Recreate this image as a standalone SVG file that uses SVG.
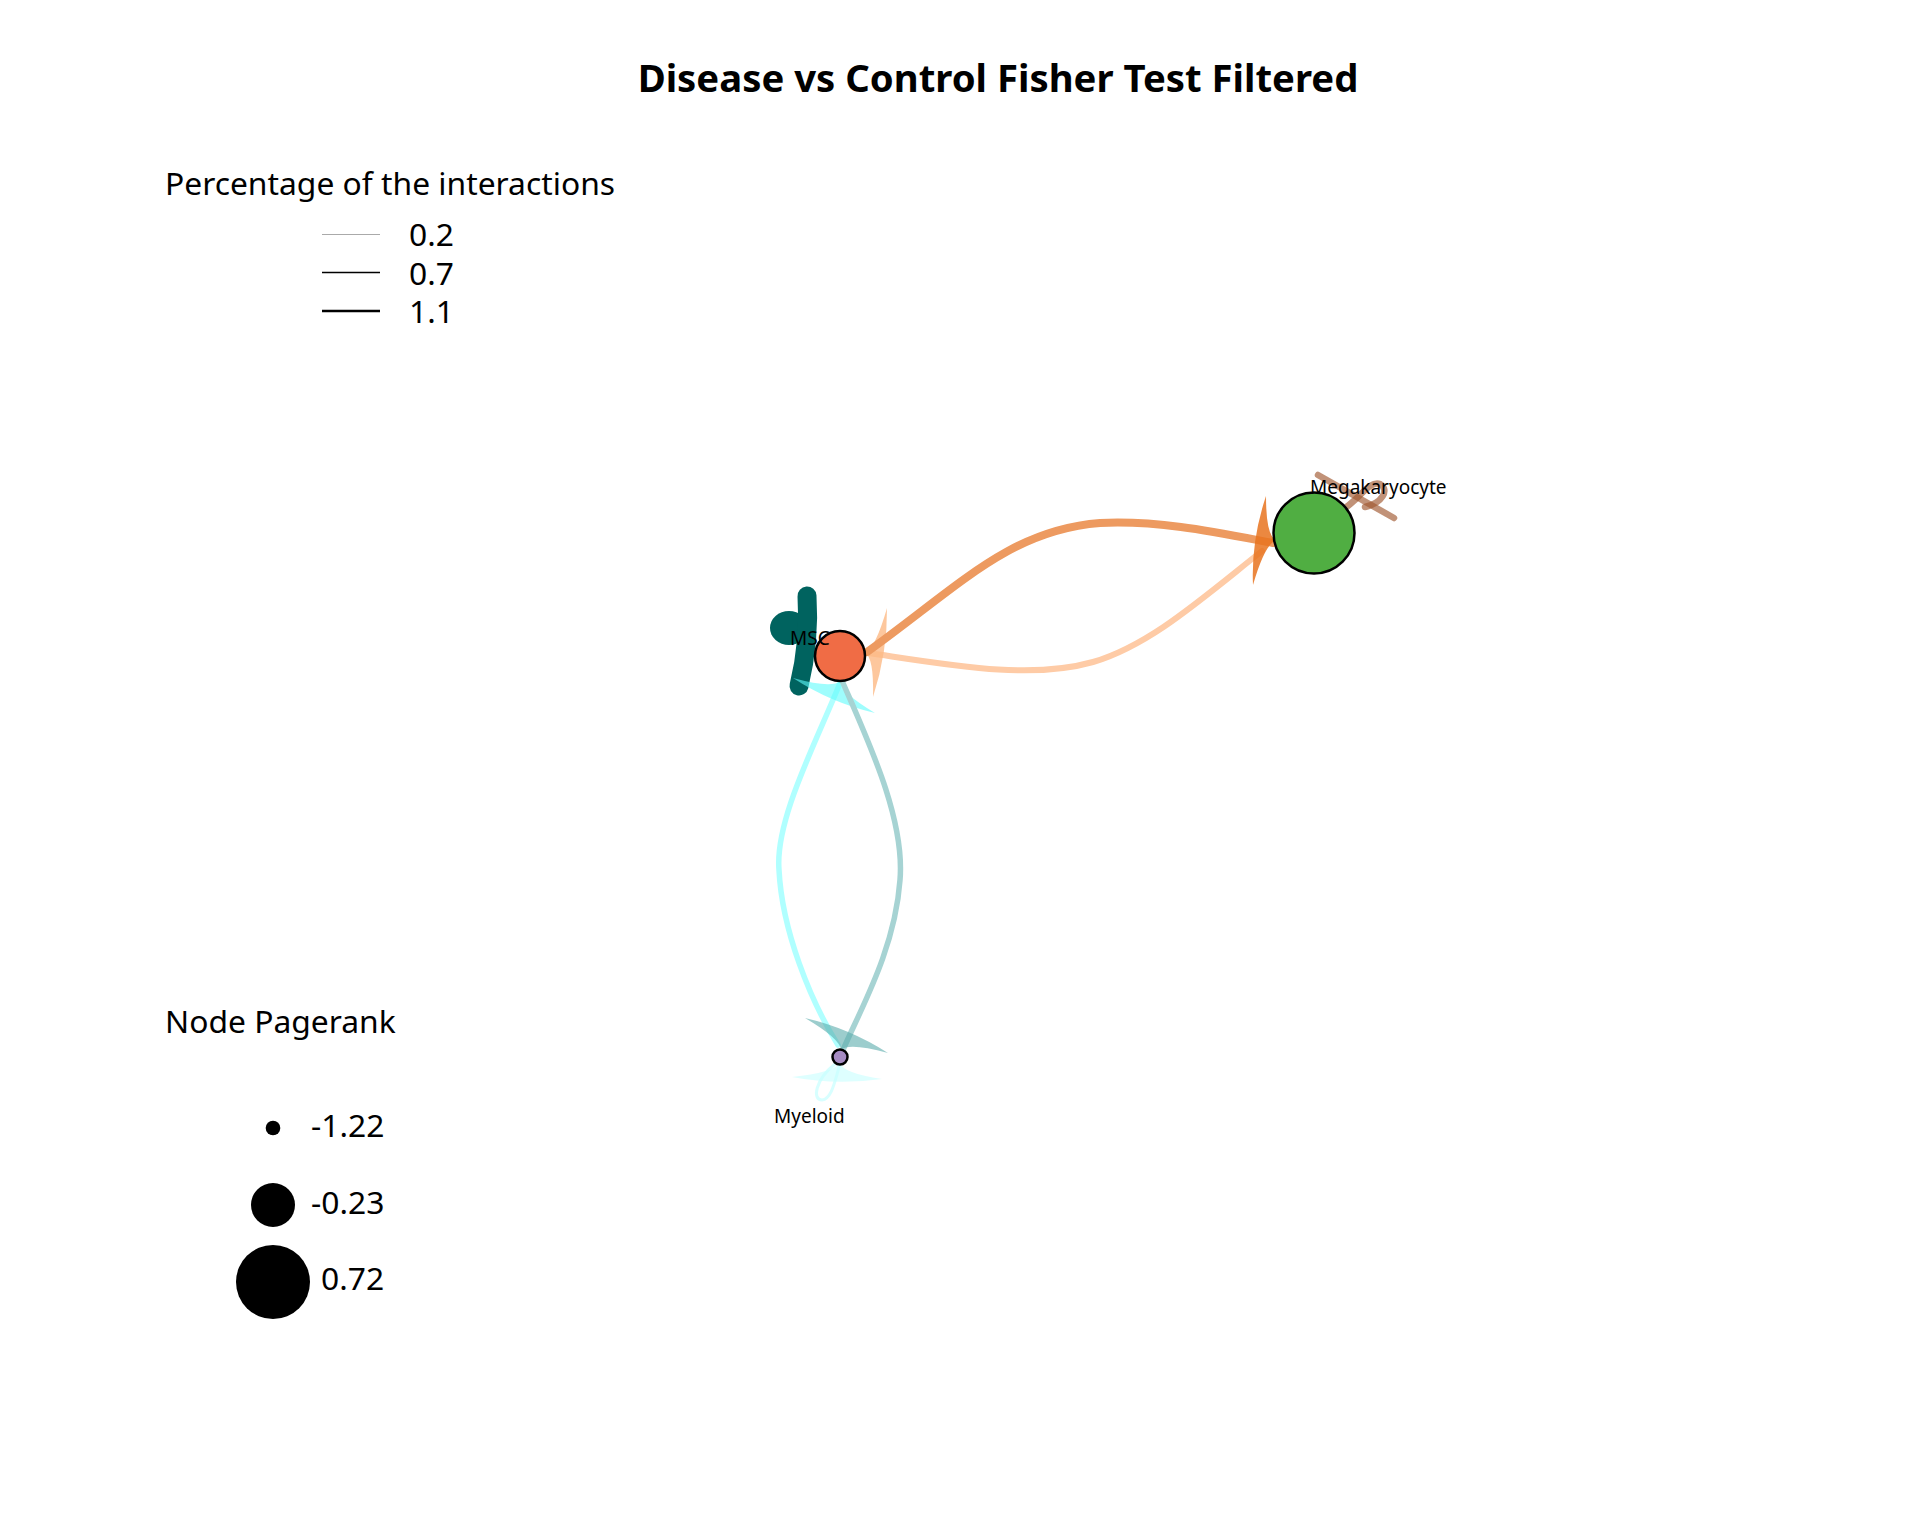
<svg xmlns="http://www.w3.org/2000/svg" width="1920" height="1536" viewBox="0 0 1920 1536">
<style>
text{font-family:"Noto Sans","Open Sans","DejaVu Sans",sans-serif;fill:#000}
.title{font-size:38.3px;font-weight:bold}
.leg{font-size:31.8px}
.lab{font-size:19px}
.node{stroke:#000;stroke-width:2.5}
.edge{fill:none;stroke-linecap:round}
</style>
<rect width="1920" height="1536" fill="#fff"/>
<text class="title" x="998" y="92" text-anchor="middle">Disease vs Control Fisher Test Filtered</text>

<g id="legend-width">
<text class="leg" x="165" y="195">Percentage of the interactions</text>
<line x1="322" y1="234.5" x2="380" y2="234.5" stroke="#aaaaaa" stroke-width="1.2"/>
<line x1="322" y1="272.5" x2="380" y2="272.5" stroke="#000" stroke-width="1.5"/>
<line x1="322" y1="311" x2="380" y2="311" stroke="#000" stroke-width="2.6"/>
<text class="leg" x="409" y="246">0.2</text>
<text class="leg" x="409" y="285">0.7</text>
<text class="leg" x="409" y="323">1.1</text>
</g>

<g id="legend-size">
<text class="leg" x="165" y="1033">Node Pagerank</text>
<circle cx="273" cy="1128" r="7.3" fill="#000"/>
<circle cx="273" cy="1205" r="22" fill="#000"/>
<circle cx="273" cy="1282" r="37" fill="#000"/>
<text class="leg" x="311" y="1137">-1.22</text>
<text class="leg" x="311" y="1214">-0.23</text>
<text class="leg" x="321" y="1290">0.72</text>
</g>

<g id="connectors">
<!-- MSC self loop -->
<g id="loop-msc" fill="#00635f" stroke="#00635f">
<ellipse cx="789" cy="628" rx="19" ry="17" stroke="none"/>
<path d="M 807 596 Q 810 640 799 686" fill="none" stroke-width="19" stroke-linecap="round"/>
</g>
<!-- Megakaryocyte self loop -->
<g id="loop-mega" fill="none" stroke="#a0582f" stroke-opacity="0.65" stroke-width="6.5" stroke-linecap="round">
<line x1="1318" y1="475" x2="1394" y2="518"/>
<path d="M 1345 508 C 1360 498, 1370 480, 1380 484 C 1390 490, 1382 503, 1365 507"/>
</g>
<!-- Myeloid self loop -->
<path id="loop-myeloid" class="edge" d="M 835 1064 C 815 1080, 812 1100, 822 1100 C 832 1099, 835 1080, 840 1064" stroke="#d8ffff" stroke-width="3"/>
<path d="M 792 1077 Q 833.5 1072.6 840 1063 Q 842.5 1072.9 882 1079 Q 835.5 1085.5 792 1077 Z" fill="#c8ffff" fill-opacity="0.6"/>

<!-- Megakaryocyte -> MSC (light orange) -->
<path class="edge" d="M 869 653 C 950 665, 1030 680, 1093 662 C 1150 645, 1200 600, 1262 551" stroke="#fecba6" stroke-width="6"/>
<path d="M 887 608 Q 875.5 648.2 865 653 Q 874 657.2 873 697 Q 887.5 652.3 887 608 Z" fill="#fdb985" fill-opacity="0.8"/>

<!-- MSC -> Megakaryocyte (orange) -->
<path class="edge" d="M 867 652 C 960 585, 1010 530, 1100 523 C 1160 520, 1220 533, 1273 543" stroke="#ed9a60" stroke-width="8"/>
<path d="M 1266 496 Q 1266 536 1276 540 Q 1264.6 544.7 1253 585 Q 1251 540.7 1266 496 Z" fill="#e8731f" fill-opacity="0.85"/>

<!-- Myeloid -> MSC (cyan) -->
<path class="edge" d="M 840 683 C 815 745, 775 820, 779 870 C 782 930, 810 1000, 838 1045" stroke="#b0ffff" stroke-width="5.5"/>
<path d="M 793 678 Q 832 688.7 840 681 Q 840.2 692.2 875 713 Q 831 702.8 793 678 Z" fill="#5ffcfc" fill-opacity="0.6"/>

<!-- MSC -> Myeloid (teal grey) -->
<path class="edge" d="M 843 683 C 870 745, 905 820, 900 880 C 895 950, 860 1010, 843 1050" stroke="#a6d3d3" stroke-width="5.5"/>
<path d="M 805 1018 Q 840.4 1038.8 841 1050 Q 848.7 1042.3 888 1053 Q 849.2 1028.2 805 1018 Z" fill="#5aabab" fill-opacity="0.6"/>
</g>

<g id="node-msc">
<circle class="node" cx="840" cy="656" r="25" fill="#f06c45"/>
<text class="lab" x="790" y="645">MSC</text>
</g>
<g id="node-megakaryocyte">
<circle class="node" cx="1314" cy="533" r="40.5" fill="#50ae42"/>
<text class="lab" x="1310" y="494">Megakaryocyte</text>
</g>
<g id="node-myeloid">
<circle class="node" cx="840" cy="1057" r="7.5" fill="#a68bc2"/>
<text class="lab" x="774" y="1123">Myeloid</text>
</g>
</svg>
